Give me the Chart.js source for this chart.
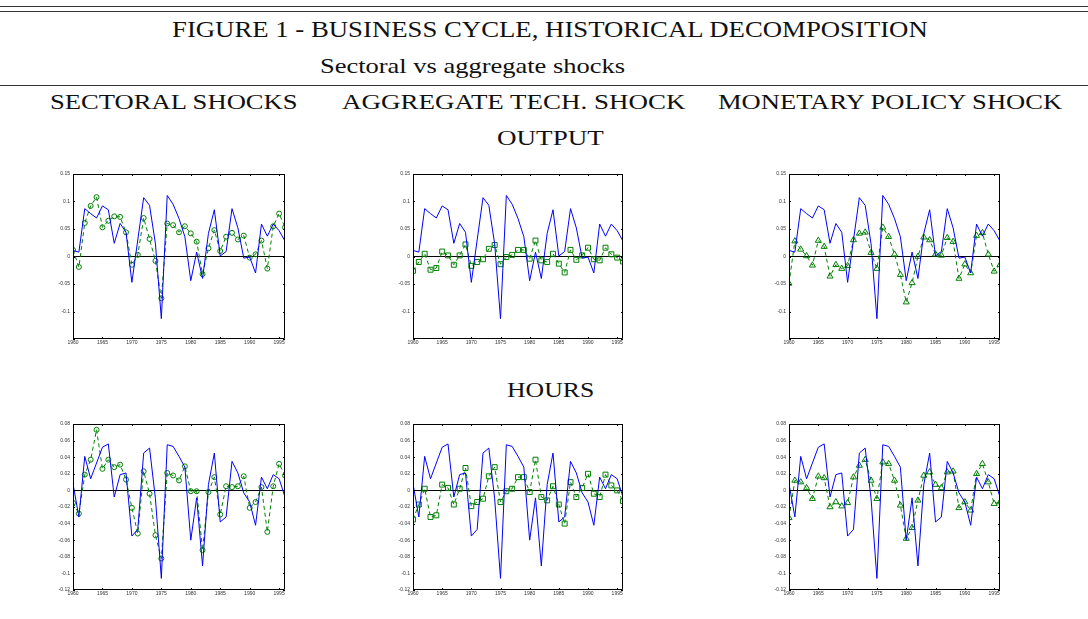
<!DOCTYPE html>
<html>
<head>
<meta charset="utf-8">
<script src="https://cdn.jsdelivr.net/npm/chart.js@4.4.1/dist/chart.umd.min.js"></script>
<style>
  body { margin: 0; width: 1088px; height: 619px; background: #fff; position: relative; overflow: hidden; }
  .rule { position: absolute; left: 0; width: 1088px; height: 1px; background: #333; }
  .txt { position: absolute; white-space: nowrap; line-height: 1; color: #111; font-family: "Liberation Serif", serif; transform-origin: 0 50%; }
  canvas { position: absolute; }
</style>
</head>
<body>
<div class="rule" style="top:6px"></div>
<div class="rule" style="top:11px"></div>
<div class="rule" style="top:85px"></div>

<canvas id="out1"></canvas>
<canvas id="out2"></canvas>
<canvas id="out3"></canvas>
<canvas id="hrs1"></canvas>
<canvas id="hrs2"></canvas>
<canvas id="hrs3"></canvas>

<script>
var years = [1960, 1961, 1962, 1963, 1964, 1965, 1966, 1967, 1968, 1969,
             1970, 1971, 1972, 1973, 1974, 1975, 1976, 1977, 1978, 1979,
             1980, 1981, 1982, 1983, 1984, 1985, 1986, 1987, 1988, 1989,
             1990, 1991, 1992, 1993, 1994, 1995, 1996];
var yearTicks = [1960, 1965, 1970, 1975, 1980, 1985, 1990, 1995];

// output: actual series and the part explained by each shock
var outputActual = [0.011, 0.008, 0.087, 0.078, 0.070, 0.092, 0.085, 0.024, 0.060, 0.044,
                    -0.047, 0.030, 0.107, 0.093, 0.023, -0.113, 0.111, 0.095, 0.069, 0.036,
                    -0.044, 0.008, -0.040, 0.042, 0.085, 0.001, 0.009, 0.087, 0.052, -0.003,
                    -0.001, -0.030, 0.059, 0.037, 0.059, 0.047, 0.028];
var outputSectoral = [0.012, -0.019, 0.061, 0.092, 0.108, 0.053, 0.065, 0.073, 0.072, 0.044,
                      -0.015, 0.003, 0.070, 0.032, -0.008, -0.076, 0.060, 0.057, 0.044, 0.055,
                      0.042, 0.027, -0.032, 0.015, 0.048, 0.010, 0.036, 0.043, 0.031, 0.038,
                      -0.002, 0.004, 0.029, -0.022, 0.055, 0.078, 0.053];
var outputAggTech = [-0.026, -0.010, 0.005, -0.024, -0.021, 0.009, 0.002, -0.015, 0.002, 0.022,
                     -0.017, -0.010, -0.005, 0.014, 0.021, -0.014, -0.001, 0.003, 0.012, 0.012,
                     -0.004, 0.029, -0.007, -0.010, 0.005, -0.013, -0.029, 0.012, -0.006, 0.002,
                     0.016, -0.005, -0.007, 0.016, 0.004, -0.002, -0.009];
var outputMonetary = [-0.049, 0.028, 0.013, 0.001, -0.016, 0.029, 0.018, -0.036, -0.015, -0.022,
                      -0.017, 0.030, 0.042, 0.044, 0.007, -0.022, 0.053, 0.036, 0.004, -0.033,
                      -0.083, -0.048, 0.000, 0.035, 0.030, 0.004, 0.002, 0.034, 0.027, -0.040,
                      -0.014, -0.030, 0.038, 0.043, 0.004, -0.027, -0.015];

// hours
var hoursActual = [0.008, -0.032, 0.041, 0.014, 0.033, 0.052, 0.056, -0.008, 0.019, 0.021,
                   -0.055, -0.047, 0.045, 0.051, -0.010, -0.106, 0.055, 0.053, 0.041, 0.028,
                   -0.060, -0.009, -0.091, 0.007, 0.045, -0.038, -0.032, 0.035, 0.021, -0.003,
                   -0.014, -0.042, 0.016, 0.002, 0.019, 0.014, -0.008];
var hoursSectoral = [-0.015, -0.028, 0.019, 0.037, 0.073, 0.026, 0.037, 0.028, 0.031, 0.013,
                     -0.021, -0.052, 0.023, -0.004, -0.054, -0.082, 0.021, 0.018, 0.012, 0.029,
                     -0.001, -0.001, -0.072, -0.002, 0.016, -0.029, 0.005, 0.004, 0.005, 0.017,
                     -0.021, -0.014, 0.004, -0.050, 0.005, 0.032, 0.018];
var hoursAggTech = [-0.035, -0.017, 0.002, -0.032, -0.030, 0.007, 0.003, -0.017, 0.002, 0.027,
                    -0.019, -0.014, -0.010, 0.017, 0.028, -0.014, -0.001, 0.002, 0.016, 0.016,
                    -0.002, 0.037, -0.008, -0.012, 0.005, -0.017, -0.040, 0.010, -0.008, 0.003,
                    0.020, -0.004, -0.008, 0.019, 0.006, 0.000, -0.013];
var hoursMonetary = [-0.033, 0.012, 0.010, 0.003, -0.010, 0.017, 0.015, -0.020, -0.014, -0.019,
                     -0.015, 0.016, 0.030, 0.037, 0.012, -0.010, 0.034, 0.032, 0.012, -0.018,
                     -0.058, -0.045, -0.012, 0.018, 0.022, 0.007, 0.003, 0.022, 0.023, -0.021,
                     -0.014, -0.024, 0.020, 0.032, 0.010, -0.016, -0.014];

var outputTicks = [-0.15, -0.1, -0.05, 0, 0.05, 0.1, 0.15];
var outputTickLabels = ['', '-0.1', '-0.05', '0', '0.05', '0.1', '0.15'];
var hoursTicks = [-0.12, -0.1, -0.08, -0.06, -0.04, -0.02, 0, 0.02, 0.04, 0.06, 0.08];
var hoursTickLabels = ['-0.12', '-0.1', '-0.08', '-0.06', '-0.04', '-0.02', '0', '0.02', '0.04', '0.06', '0.08'];

var BLUE = '#0000ff';
var GREEN = '#008000';
var YW = 26, XH = 10, PT = 6, PR = 5;

function place(str, capCenterY, left, width, size) {
  var el = document.createElement('div');
  el.className = 'txt';
  el.textContent = str;
  el.style.fontSize = size + 'px';
  document.body.appendChild(el);
  var w = el.offsetWidth;
  el.style.left = left + 'px';
  el.style.top = (capCenterY - 0.506 * size) + 'px';
  el.style.transform = 'scaleX(' + (width / w) + ')';
}

place('FIGURE 1 - BUSINESS CYCLE, HISTORICAL DECOMPOSITION', 30, 172, 756, 23);
place('Sectoral vs aggregate shocks', 67, 320, 305, 21);
place('SECTORAL SHOCKS', 103, 50, 247, 21);
place('AGGREGATE TECH. SHOCK', 103, 342, 343, 21);
place('MONETARY POLICY SHOCK', 103, 718, 344, 21);
place('OUTPUT', 139, 497, 107, 21);
place('HOURS', 391, 507, 87, 21);

// matlab-style box round the plot with inward ticks
var framePlugin = {
  id: 'boxFrame',
  afterDraw: function(chart) {
    var a = chart.chartArea, ctx = chart.ctx;
    var xs = chart.scales.x, ys = chart.scales.y;
    ctx.save();
    ctx.strokeStyle = '#000';
    ctx.lineWidth = 1;
    ctx.setLineDash([]);
    ctx.beginPath();
    xs.ticks.forEach(function(t) {
      var px = Math.round(xs.getPixelForValue(t.value)) + 0.5;
      ctx.moveTo(px, a.bottom); ctx.lineTo(px, a.bottom - 2);
      ctx.moveTo(px, a.top); ctx.lineTo(px, a.top + 2);
    });
    ys.ticks.forEach(function(t) {
      var py = Math.round(ys.getPixelForValue(t.value)) + 0.5;
      ctx.moveTo(a.left, py); ctx.lineTo(a.left + 2, py);
      ctx.moveTo(a.right, py); ctx.lineTo(a.right - 2, py);
    });
    var l = Math.round(a.left) + 0.5, t = Math.round(a.top) + 0.5;
    var r = Math.round(a.right) - 0.5, b = Math.round(a.bottom) - 0.5;
    ctx.moveTo(l, t); ctx.lineTo(r, t); ctx.lineTo(r, b); ctx.lineTo(l, b); ctx.closePath();
    ctx.stroke();
    ctx.restore();
  }
};

function pts(values) {
  return years.map(function(yr, i) { return { x: yr, y: values[i] }; });
}

function panel(id, area, actual, part, marker, ticks, tickLabels) {
  var cv = document.getElementById(id);
  var w = area.r - area.l + YW + PR;
  var h = area.b - area.t + PT + XH;
  cv.width = w; cv.height = h;
  cv.style.left = (area.l - YW) + 'px';
  cv.style.top = (area.t - PT) + 'px';
  cv.style.width = w + 'px';
  cv.style.height = h + 'px';
  var markerRadius = marker === 'circle' ? 2.5 : 3.5;
  new Chart(cv, {
    type: 'line',
    data: {
      datasets: [{
        data: pts(actual),
        borderColor: BLUE,
        borderWidth: 1,
        pointRadius: 0,
        tension: 0
      }, {
        data: pts(part),
        borderColor: GREEN,
        borderWidth: 1,
        borderDash: [4, 3],
        pointStyle: marker,
        pointRadius: markerRadius,
        pointBorderColor: GREEN,
        pointBackgroundColor: 'rgba(0,0,0,0)',
        pointBorderWidth: 1,
        tension: 0
      }]
    },
    options: {
      responsive: false,
      animation: false,
      devicePixelRatio: 1,
      layout: { padding: { left: 0, top: PT, right: PR, bottom: 0 } },
      plugins: { legend: { display: false }, tooltip: { enabled: false } },
      scales: {
        x: {
          type: 'linear',
          min: 1960,
          max: 1996,
          afterBuildTicks: function(s) { s.ticks = yearTicks.map(function(v) { return { value: v }; }); },
          afterFit: function(s) { s.height = XH; s.paddingLeft = 0; s.paddingRight = 0; },
          ticks: {
            autoSkip: false,
            maxRotation: 0,
            padding: 1,
            color: '#333',
            font: { family: 'Liberation Sans', size: 5 },
            callback: function(v) { return String(v); }
          },
          grid: { display: false, drawTicks: false },
          border: { display: false }
        },
        y: {
          min: ticks[0],
          max: ticks[ticks.length - 1],
          afterBuildTicks: function(s) { s.ticks = ticks.map(function(v) { return { value: v }; }); },
          afterFit: function(s) { s.width = YW; s.paddingTop = 0; s.paddingBottom = 0; },
          ticks: {
            autoSkip: false,
            padding: 3,
            color: '#333',
            font: { family: 'Liberation Sans', size: 5 },
            callback: function(v, i) { return tickLabels[i]; }
          },
          grid: {
            drawTicks: false,
            color: function(c) { return c.tick && c.tick.value === 0 ? '#000' : 'rgba(0,0,0,0)'; },
            lineWidth: 1
          },
          border: { display: false }
        }
      }
    },
    plugins: [framePlugin]
  });
}

var row1 = { t: 174, b: 339 };
var row2 = { t: 424, b: 590 };
var cols = [{ l: 73, r: 285 }, { l: 413, r: 623 }, { l: 789, r: 1000 }];

function area(col, row) { return { l: col.l, r: col.r, t: row.t, b: row.b }; }

panel('out1', area(cols[0], row1), outputActual, outputSectoral, 'circle', outputTicks, outputTickLabels);
panel('out2', area(cols[1], row1), outputActual, outputAggTech, 'rect', outputTicks, outputTickLabels);
panel('out3', area(cols[2], row1), outputActual, outputMonetary, 'triangle', outputTicks, outputTickLabels);
panel('hrs1', area(cols[0], row2), hoursActual, hoursSectoral, 'circle', hoursTicks, hoursTickLabels);
panel('hrs2', area(cols[1], row2), hoursActual, hoursAggTech, 'rect', hoursTicks, hoursTickLabels);
panel('hrs3', area(cols[2], row2), hoursActual, hoursMonetary, 'triangle', hoursTicks, hoursTickLabels);
</script>
</body>
</html>
